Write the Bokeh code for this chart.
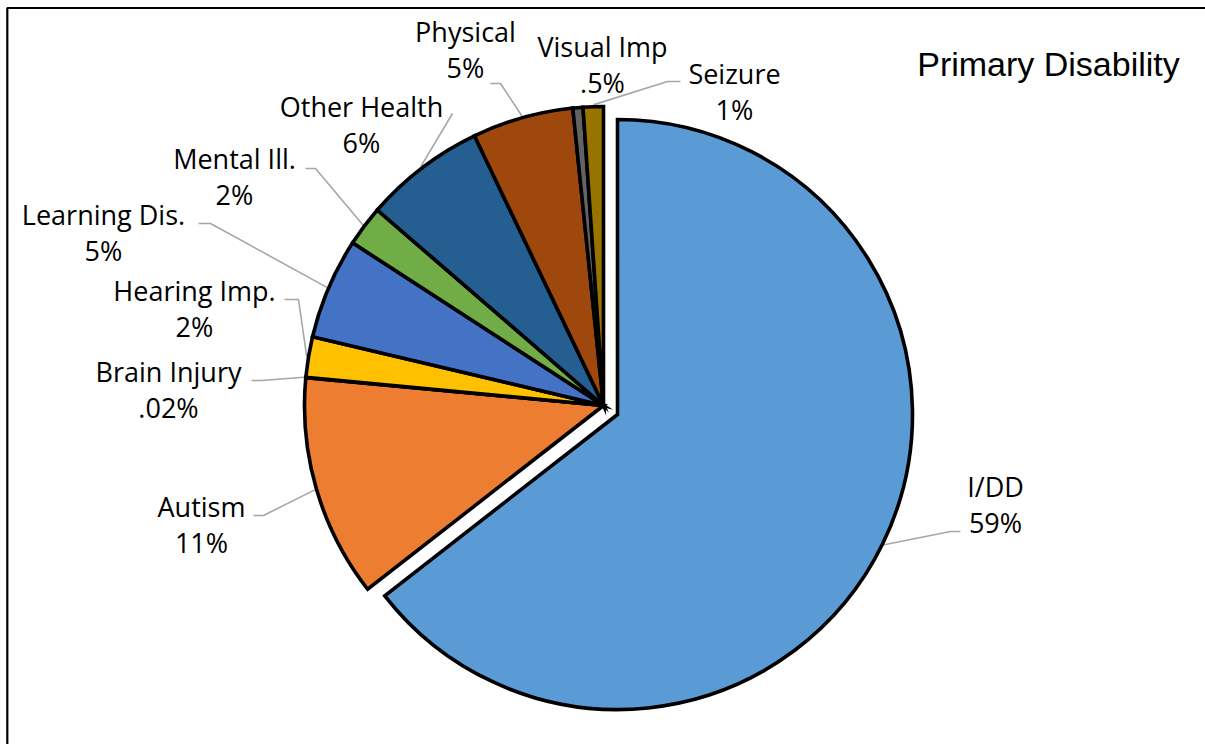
import math

from bokeh.core.properties import value
from bokeh.embed import file_html
from bokeh.models import ColumnDataSource, Range1d
from bokeh.plotting import figure
from bokeh.resources import INLINE

# Primary disability shares (percent), listed clockwise from 12 o'clock
categories = ["I/DD", "Autism", "Brain Injury", "Hearing Imp.", "Learning Dis.",
              "Mental Ill.", "Other Health", "Physical", "Visual Imp", "Seizure"]
percents = [59, 11, 0.02, 2, 5, 2, 6, 5, 0.5, 1]
colors = ["#5B9BD5", "#ED7D31", "#A5A5A5", "#FFC000", "#4472C4",
          "#70AD47", "#255E91", "#9E480E", "#636363", "#997300"]
title_text = "Primary Disability"

# ---- layout (pixel space, y measured downward from the top edge) ----
W, H = 1205, 744


def sy(y):
    """Convert a top-down pixel row into the upward data axis."""
    return H - y


PIE_CENTER = (603, 405)
PIE_RADIUS = 299
# the I/DD slice is pulled out from the rest of the pie
EXPLODED = {"I/DD": ((617, 414), 295)}

# label anchor (centre x, vertical centre of the name line);
# the value sits one line below
LABEL_ANCHOR = {
    "I/DD": (995, 486),
    "Autism": (201, 506),
    "Brain Injury": (168, 371),
    "Hearing Imp.": (194, 290),
    "Learning Dis.": (103, 214),
    "Mental Ill.": (234, 158),
    "Other Health": (361, 106),
    "Physical": (465, 31),
    "Visual Imp": (602, 46),
    "Seizure": (734, 73),
}
LINE_GAP = 36

# leader-line elbows next to each label (the last point is found on the slice)
LEADER_ELBOWS = {
    "I/DD": [(960, 531), (950, 531)],
    "Autism": [(253, 515), (263, 515)],
    "Brain Injury": [(251, 380), (261, 380)],
    "Hearing Imp.": [(284, 299), (298, 299)],
    "Learning Dis.": [(198, 223), (210, 223)],
    "Mental Ill.": [(305, 168), (315, 168)],
    "Other Health": [(452, 113)],
    "Physical": [(490, 83), (500, 83)],
    "Seizure": [(680, 81), (667, 81)],
}

SLICE_LINE = 3.6


def fmt_pct(v):
    s = f"{v:g}%"
    return s[1:] if s.startswith("0.") else s


# ---- slice geometry from the values ----
total = float(sum(percents))
starts, ends, mids, xs, ys, rads = [], [], [], [], [], []
cum = 0.0
for name, v in zip(categories, percents):
    a0 = math.pi / 2 - 2 * math.pi * cum / total
    cum += v
    a1 = math.pi / 2 - 2 * math.pi * cum / total
    (cx, cy), r = EXPLODED.get(name, (PIE_CENTER, PIE_RADIUS))
    starts.append(a0)
    ends.append(a1)
    mids.append((a0 + a1) / 2)
    xs.append(cx)
    ys.append(sy(cy))
    rads.append(r)

slices = ColumnDataSource(dict(
    name=categories, pct=percents, color=colors,
    start=starts, end=ends, x=xs, y=ys, r=rads,
))

p = figure(width=W, height=H, x_range=Range1d(0, W), y_range=Range1d(0, H),
           x_axis_type=None, y_axis_type=None, min_border=0,
           toolbar_location=None, output_backend="svg")
p.outline_line_color = None
p.background_fill_color = "white"
p.border_fill_color = "white"
p.xgrid.visible = False
p.ygrid.visible = False

# chart-area frame (top and left edges)
p.line([6.8, 6.8, W], [sy(H + 5), sy(7.5), sy(7.5)],
       line_color="black", line_width=2.2)

# leader lines: elbow points, then the outer arc at each slice's mid angle
lx, ly = [], []
for i, name in enumerate(categories):
    if name not in LEADER_ELBOWS:
        continue
    pts = [(x, sy(y)) for x, y in LEADER_ELBOWS[name]]
    edge = rads[i] + SLICE_LINE / 2
    pts.append((xs[i] + edge * math.cos(mids[i]), ys[i] + edge * math.sin(mids[i])))
    lx.append([pt[0] for pt in pts])
    ly.append([pt[1] for pt in pts])
p.multi_line(lx, ly, line_color="#A6A6A6", line_width=1.6)

# pie slices
p.wedge(x="x", y="y", radius="r", start_angle="start", end_angle="end",
        direction="clock", fill_color="color", line_color="black",
        line_width=SLICE_LINE, line_join="miter", source=slices)

# data labels: category name and percentage
labels = ColumnDataSource(dict(
    x=[LABEL_ANCHOR[n][0] for n in categories],
    y_name=[sy(LABEL_ANCHOR[n][1]) for n in categories],
    y_val=[sy(LABEL_ANCHOR[n][1] + LINE_GAP) for n in categories],
    name=categories,
    val=[fmt_pct(v) for v in percents],
))
for col, ycol in (("name", "y_name"), ("val", "y_val")):
    p.text(x="x", y=ycol, text=col, source=labels,
           text_font=value("Open Sans"), text_font_size="27px",
           text_align="center", text_baseline="middle", text_color="#000000")

# chart title
p.text(x=[1048], y=[sy(63)], text=[title_text],
       text_font=value("Liberation Sans"), text_font_size="34px",
       text_align="center", text_baseline="middle", text_color="#000000")

open("out.html", "w").write(file_html(p, INLINE))
